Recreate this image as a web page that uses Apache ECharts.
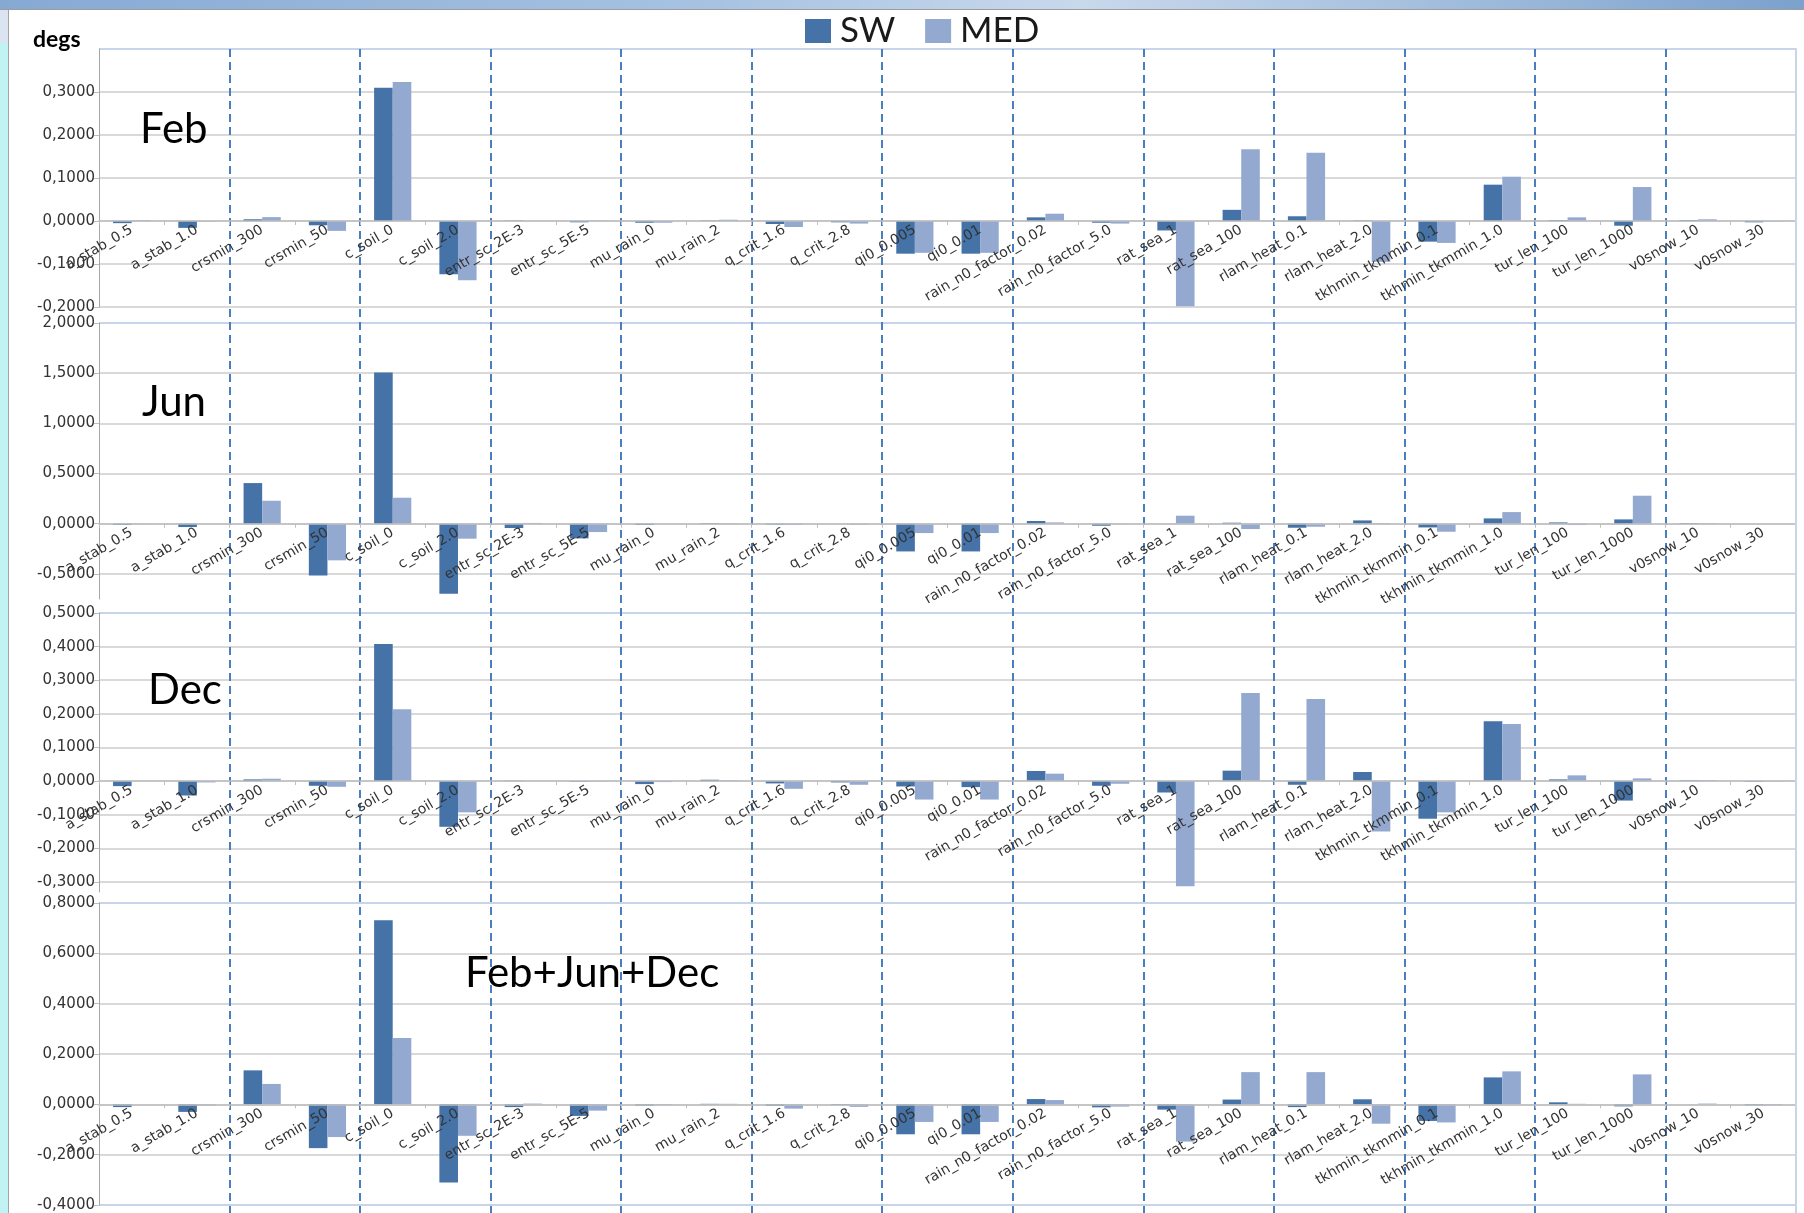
<!DOCTYPE html>
<html>
<head>
<meta charset="utf-8">
<title>degs</title>
<script src="https://cdn.jsdelivr.net/npm/echarts@6/dist/echarts.min.js"></script>
<style>
  html, body { margin: 0; padding: 0; background: #fff; }
  #chart { width: 1804px; height: 1213px; }
</style>
</head>
<body>
<div id="chart"></div>
<script>
// parametres testes
const categories = [
  'a_stab_0.5', 'a_stab_1.0', 'crsmin_300', 'crsmin_50', 'c_soil_0', 'c_soil_2.0',
  'entr_sc_2E-3', 'entr_sc_5E-5', 'mu_rain_0', 'mu_rain_2', 'q_crit_1.6', 'q_crit_2.8',
  'qi0_0.005', 'qi0_0.01', 'rain_n0_factor_0.02', 'rain_n0_factor_5.0', 'rat_sea_1', 'rat_sea_100',
  'rlam_heat_0.1', 'rlam_heat_2.0', 'tkhmin_tkmmin_0.1', 'tkhmin_tkmmin_1.0', 'tur_len_100', 'tur_len_1000',
  'v0snow_10', 'v0snow_30'
]

const febSW = [-0.005, -0.016, 0.004, -0.010, 0.310, -0.124, 0.001, -0.003, -0.004, 0.001, -0.007, -0.003, -0.076,
  -0.076, 0.0085, -0.004, -0.022, 0.026, 0.011, 0.001, -0.048, 0.0845, 0.002, -0.011, 0.002, -0.003]
const febMED = [0.002, -0.001, 0.009, -0.023, 0.323, -0.138, 0.000, 0.001, -0.004, 0.003, -0.014, -0.006, -0.074,
  -0.074, 0.017, -0.006, -0.198, 0.167, 0.159, -0.095, -0.051, 0.103, 0.0085, 0.079, 0.004, -0.001]

const junSW = [-0.012, -0.033, 0.405, -0.515, 1.507, -0.697, -0.043, -0.146, -0.012, 0.006, -0.008, 0.000, -0.276,
  -0.276, 0.027, -0.020, 0.000, 0.010, -0.040, 0.033, -0.037, 0.053, 0.013, 0.043, 0.007, 0.000]
const junMED = [-0.003, 0.000, 0.229, -0.365, 0.259, -0.149, 0.008, -0.083, 0.000, 0.006, -0.012, -0.010, -0.093,
  -0.093, 0.013, -0.003, 0.080, -0.053, -0.030, 0.007, -0.080, 0.116, -0.013, 0.279, 0.005, 0.000]

const decSW = [-0.015, -0.043, 0.005, -0.014, 0.408, -0.136, 0.001, -0.002, -0.009, 0.004, -0.007, -0.004, -0.016,
  -0.018, 0.030, -0.014, -0.034, 0.031, -0.011, 0.027, -0.112, 0.178, 0.005, -0.058, 0.002, -0.002]
const decMED = [0.000, -0.004, 0.007, -0.017, 0.214, -0.093, 0.000, -0.001, -0.003, 0.002, -0.023, -0.011, -0.055,
  -0.055, 0.022, -0.008, -0.313, 0.262, 0.244, -0.150, -0.093, 0.170, 0.017, 0.008, 0.003, -0.001]

const allSW = [-0.011, -0.030, 0.135, -0.174, 0.731, -0.311, -0.011, -0.046, -0.005, 0.002, -0.006, -0.003, -0.119,
  -0.119, 0.021, -0.012, -0.021, 0.019, -0.011, 0.020, -0.066, 0.107, 0.008, -0.008, 0.000, -0.004]
const allMED = [0.000, -0.005, 0.081, -0.130, 0.264, -0.125, 0.003, -0.025, -0.003, 0.002, -0.017, -0.010, -0.070,
  -0.070, 0.017, -0.009, -0.148, 0.128, 0.128, -0.077, -0.072, 0.131, 0.002, 0.119, 0.003, -0.004]

const chart = echarts.init(document.getElementById('chart'))

const swColor = '#4572a7'
const medColor = '#94a9d0'
const grey = '#d9d9d9'
const pale = '#c6d5ea'
const none = 'rgba(0,0,0,0)'
const labelFont = 'DejaVu Sans'

// 4 graphiques empiles
const panels = [
  { title: 'Feb', sw: febSW, med: febMED, top: 49, height: 258, min: -0.2, max: 0.4, interval: 0.1,
    lines: [grey, grey, grey, grey, grey, grey, pale], showMax: false, showMin: true,
    tx: 140, ty: 108 },
  { title: 'Jun', sw: junSW, med: junMED, top: 323, height: 276, min: -0.75, max: 2.0, splitNumber: 5,
    lines: [none, grey, grey, grey, grey, grey, pale], showMax: true, showMin: false,
    tx: 142, ty: 381 },
  { title: 'Dec', sw: decSW, med: decMED, top: 613, height: 279, min: -0.33, max: 0.5, splitNumber: 8,
    lines: [none, grey, grey, grey, grey, grey, grey, grey, grey, pale], showMax: true, showMin: false,
    tx: 148, ty: 669 },
  { title: 'Feb+Jun+Dec', sw: allSW, med: allMED, top: 903, height: 302, min: -0.4, max: 0.8, interval: 0.2,
    lines: [pale, grey, grey, grey, grey, grey, pale], showMax: true, showMin: true,
    tx: 465, ty: 952 }
]

function tickLabel(v) {
  if (Math.abs(v) < 1e-9) v = 0
  return v.toFixed(4).replace('.', ',')
}

const grid = []
const xAxis = []
const yAxis = []
const series = []
const title = [{
  text: 'degs', left: 33, top: 28, padding: 0,
  textStyle: { fontFamily: 'Lato', fontWeight: 'bold', fontSize: 23, color: '#000' }
}]

panels.forEach(function (p, i) {
  grid.push({ left: 99, right: 8, top: p.top, height: p.height })
  // l'axe des categories passe par zero
  const zeroShift = p.height * (0 - p.min) / (p.max - p.min)
  xAxis.push({
    type: 'category', gridIndex: i, data: categories, boundaryGap: true, z: 3,
    position: 'bottom', offset: -zeroShift,
    axisLine: { onZero: false, lineStyle: { color: '#bfbfbf', width: 1.5 } },
    axisTick: { show: true, length: 4, lineStyle: { color: '#bfbfbf' } },
    axisLabel: { interval: 0, rotate: 30, margin: 8, fontFamily: labelFont, fontSize: 14, color: '#333' },
    splitLine: { show: false }
  })
  const y = {
    type: 'value', gridIndex: i, min: p.min, max: p.max,
    axisLine: { show: true, lineStyle: { color: '#a6a6a6' } },
    axisTick: { show: true, length: 5, lineStyle: { color: '#bfbfbf' } },
    axisLabel: {
      formatter: tickLabel, margin: 4, fontFamily: labelFont, fontSize: 15, color: '#333',
      showMinLabel: p.showMin, showMaxLabel: p.showMax
    },
    splitLine: { show: true, lineStyle: { color: p.lines, width: 2 } }
  }
  if (p.interval) y.interval = p.interval
  else y.splitNumber = p.splitNumber
  yAxis.push(y)

  series.push({
    type: 'bar', name: 'SW', xAxisIndex: i, yAxisIndex: i, data: p.sw,
    barGap: '0%', barCategoryGap: '43%', itemStyle: { color: swColor }
  })
  series.push({
    type: 'bar', name: 'MED', xAxisIndex: i, yAxisIndex: i, data: p.med,
    barGap: '0%', barCategoryGap: '43%', itemStyle: { color: medColor }
  })

  title.push({
    text: p.title, left: p.tx, top: p.ty, padding: 0,
    textStyle: { fontFamily: 'Lato', fontWeight: 'normal', fontSize: 42, color: '#000' }
  })
})

// traits pointilles entre les groupes de parametres + bord droit
grid.push({ left: 99, right: 8, top: 49, bottom: 0 })
xAxis.push({
  type: 'category', gridIndex: 4, data: categories, boundaryGap: true,
  axisLine: { show: false }, axisTick: { show: false }, axisLabel: { show: false },
  splitLine: {
    show: true,
    interval: function (idx) { return idx > 0 && idx < categories.length && idx % 2 === 0 },
    lineStyle: { color: '#4a7ebf', width: 2, type: [8, 5] }
  }
})
yAxis.push({
  type: 'value', gridIndex: 4, position: 'right', min: 0, max: 1, z: 4,
  axisLine: { show: true, lineStyle: { color: pale, width: 2 } },
  axisTick: { show: false }, axisLabel: { show: false }, splitLine: { show: false }
})

const options = {
  animation: false,
  backgroundColor: '#fff',
  title: title,
  legend: {
    data: ['SW', 'MED'], left: 805, top: 13, padding: 0,
    icon: 'rect', itemWidth: 26, itemHeight: 24, itemGap: 30,
    textStyle: { fontFamily: 'Lato', fontSize: 35, lineHeight: 36, color: '#1a1a1a', padding: [0, 0, 0, 4] }
  },
  graphic: [
    {
      type: 'rect', silent: true, shape: { x: 0, y: 0, width: 1804, height: 9 },
      style: {
        fill: new echarts.graphic.LinearGradient(0, 0, 1, 0, [
          { offset: 0, color: '#86a9d3' }, { offset: 0.4, color: '#a8c3e2' },
          { offset: 0.6, color: '#c9d9ec' }, { offset: 1, color: '#7ba1cd' }
        ])
      }
    },
    { type: 'rect', silent: true, shape: { x: 0, y: 9, width: 1804, height: 1 }, style: { fill: '#9c9c9c' } },
    { type: 'rect', silent: true, shape: { x: 0, y: 10, width: 8, height: 33 }, style: { fill: '#dbe5f1' } },
    { type: 'rect', silent: true, shape: { x: 0, y: 43, width: 8, height: 1170 }, style: { fill: '#c1f3f5' } },
    { type: 'rect', silent: true, shape: { x: 8, y: 10, width: 1, height: 1203 }, style: { fill: '#a4a4a4' } }
  ],
  grid: grid,
  xAxis: xAxis,
  yAxis: yAxis,
  series: series
}

chart.setOption(options)
window.addEventListener('resize', chart.resize)
</script>
</body>
</html>
